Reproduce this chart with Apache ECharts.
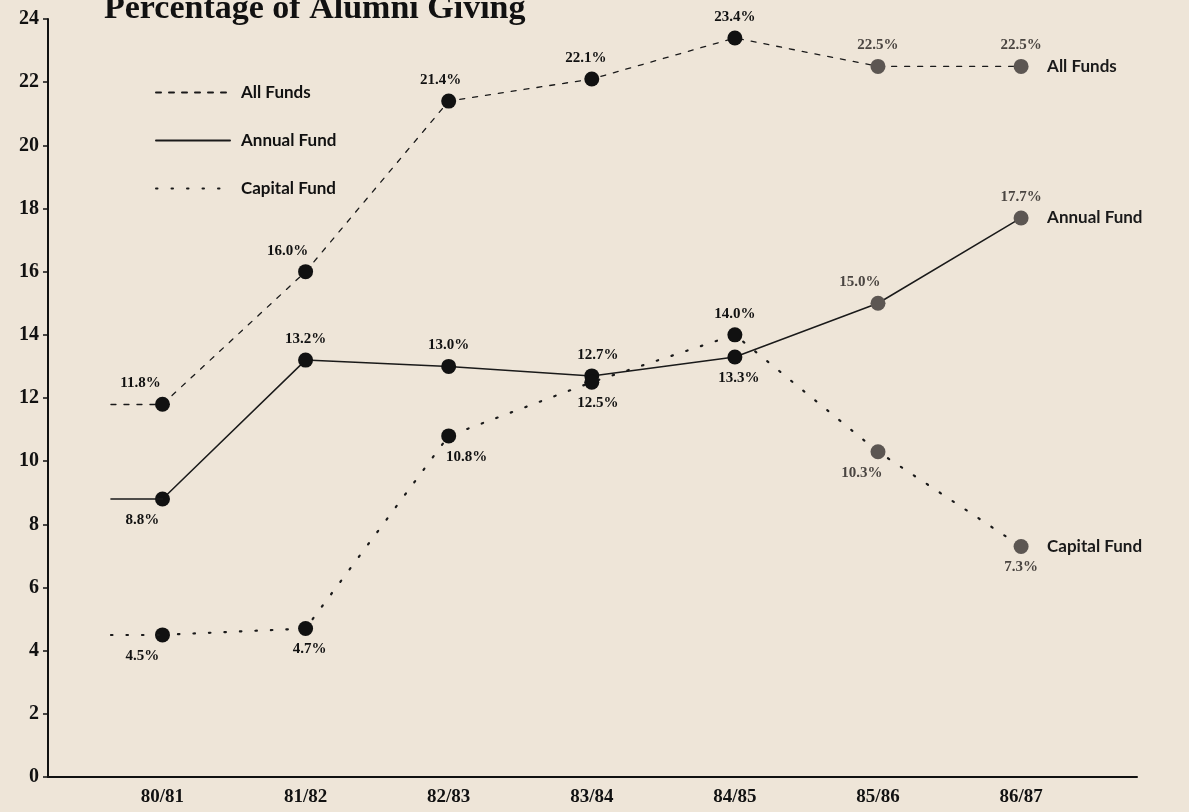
<!DOCTYPE html>
<html>
<head>
<meta charset="utf-8">
<script src="https://cdn.jsdelivr.net/npm/echarts@6/dist/echarts.min.js"></script>
<style>
html, body { margin: 0; padding: 0; background: #eee5d8; }
#main { width: 1189px; height: 812px; }
</style>
</head>
<body>
<div id="main"></div>
<script>
// data
var years = ['80/81', '81/82', '82/83', '83/84', '84/85', '85/86', '86/87'];
var allFunds = [11.8, 16.0, 21.4, 22.1, 23.4, 22.5, 22.5];
var annualFund = [8.8, 13.2, 13.0, 12.7, 13.3, 15.0, 17.7];
var capitalFund = [4.5, 4.7, 10.8, 12.5, 14.0, 10.3, 7.3];

// where each value label sits (style, not data)
var allLabelPos = [['top', -22], ['top', -18], ['top', -8], ['top', -6], ['top', 0], ['top', 0], ['top', 0]];
var annualLabelPos = [['bottom', -20], ['top', 0], ['top', 0], ['top', 6], ['bottom', 4], ['top', -18], ['top', 0]];
var capitalLabelPos = [['bottom', -20], ['bottom', 4], ['bottom', 18], ['bottom', 6], ['top', 0], ['bottom', -16], ['bottom', 0]];

var serif = '"Liberation Serif", "DejaVu Serif", serif';
var sans = 'Lato, "Open Sans", sans-serif';
var stubStart = -0.36;

function points(values, labelPos) {
  return values.map(function (v, i) {
    return {
      value: [i, v],
      itemStyle: { color: i >= 5 ? '#5c5652' : '#111' },
      label: {
        position: labelPos[i][0],
        offset: [labelPos[i][1], 0],
        color: i >= 5 ? '#4a4541' : '#111'
      }
    };
  });
}

function makeSeries(name, values, labelPos, lineType, width) {
  var ls = { color: '#1a1a1a', width: width, type: lineType, cap: 'round' };
  return {
    name: name,
    type: 'line',
    data: points(values, labelPos),
    symbol: 'circle',
    symbolSize: 15,
    lineStyle: ls,
    label: {
      show: true,
      formatter: function (p) { return p.value[1].toFixed(1) + '%'; },
      fontFamily: serif,
      fontWeight: 'bold',
      fontSize: 15,
      distance: 6
    },
    endLabel: {
      show: true,
      formatter: '{a}',
      fontFamily: sans,
      fontWeight: 'bold',
      fontSize: 17,
      color: '#1a1a1a',
      distance: 26
    },
    markLine: {
      silent: true,
      animation: false,
      symbol: ['none', 'none'],
      label: { show: false },
      lineStyle: ls,
      data: [[{ coord: [stubStart, values[0]] }, { coord: [0, values[0]] }]]
    },
    animation: false
  };
}

var myChart = echarts.init(document.getElementById('main'));
var option = {
  backgroundColor: '#eee5d8',
  title: {
    text: 'Percentage of Alumni Giving',
    left: 99,
    top: -13,
    textStyle: {
      fontFamily: serif,
      fontWeight: 'bold',
      fontSize: 34,
      color: '#111'
    }
  },
  legend: {
    orient: 'vertical',
    left: 150,
    top: 79,
    itemWidth: 74,
    itemHeight: 14,
    itemGap: 31,
    itemStyle: { opacity: 0 },
    textStyle: {
      fontFamily: sans,
      fontWeight: 'bold',
      fontSize: 17,
      color: '#111',
      padding: [0, 0, 0, 6]
    },
    data: ['All Funds', 'Annual Fund', 'Capital Fund']
  },
  grid: {
    left: 48,
    right: 52,
    top: 19,
    bottom: 35,
    containLabel: false
  },
  xAxis: {
    type: 'value',
    min: -0.8,
    max: 6.81,
    axisLine: { show: true, onZero: false, lineStyle: { color: '#111', width: 2 } },
    axisTick: { show: false },
    splitLine: { show: false },
    axisLabel: {
      customValues: [0, 1, 2, 3, 4, 5, 6],
      formatter: function (v) { return years[Math.round(v)]; },
      fontFamily: serif,
      fontWeight: 'bold',
      fontSize: 19,
      color: '#111',
      margin: 11
    }
  },
  yAxis: {
    type: 'value',
    min: 0,
    max: 24,
    interval: 2,
    axisLine: { show: true, onZero: false, lineStyle: { color: '#111', width: 2 } },
    axisTick: { show: true, length: 5, lineStyle: { color: '#111', width: 1.5 } },
    splitLine: { show: false },
    axisLabel: {
      fontFamily: serif,
      fontWeight: 'bold',
      fontSize: 20,
      color: '#111',
      margin: 9
    }
  },
  series: [
    makeSeries('All Funds', allFunds, allLabelPos, [5, 8], 1.3),
    makeSeries('Annual Fund', annualFund, annualLabelPos, 'solid', 1.5),
    makeSeries('Capital Fund', capitalFund, capitalLabelPos, [1.5, 14], 2.2)
  ]
};

myChart.setOption(option);
window.onresize = function () {
  myChart.resize();
};
</script>
</body>
</html>
